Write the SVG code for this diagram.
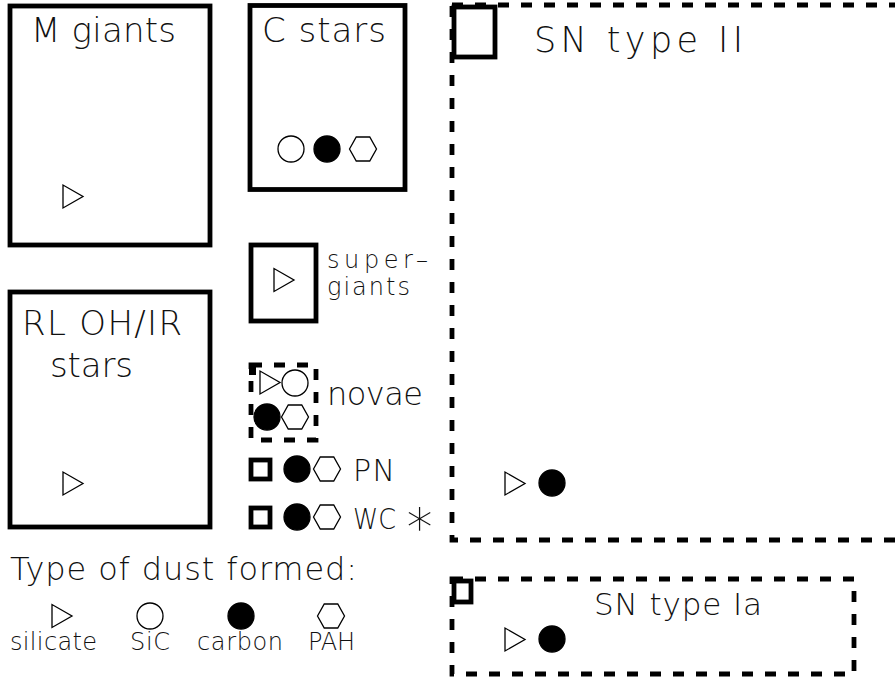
<svg xmlns="http://www.w3.org/2000/svg" width="895" height="679" viewBox="0 0 895 679">
<style>
.box{fill:none;stroke:#000;stroke-width:4.8}
.dash{fill:none;stroke:#000;stroke-width:4.8;stroke-dasharray:11 12}
.sym{fill:none;stroke:#000;stroke-width:1.3}
.fill{fill:#000;stroke:#000;stroke-width:1.3}
text{font-family:"DejaVu Sans","Liberation Sans",sans-serif;font-weight:200;fill:#111}
.big{font-size:34px}
.sm{font-size:24px}
</style>
<defs>
<polygon id="tri" class="sym" points="0,-11.5 0,11.5 20,0"/>
<circle id="oc" class="sym" r="13"/>
<circle id="fc" class="fill" r="13"/>
<polygon id="hex" class="sym" points="-13.5,0 -6.75,-12 6.75,-12 13.5,0 6.75,12 -6.75,12"/>
</defs>
<g id="m-giants">
<rect class="box" x="10" y="6" width="200" height="239"/>
<text class="big" x="31" y="42" textLength="145" lengthAdjust="spacing">M giants</text>
<use href="#tri" x="63" y="196.5"/>
</g>
<g id="c-stars">
<rect class="box" x="250" y="5.5" width="155" height="184"/>
<text class="big" x="262" y="42" textLength="124" lengthAdjust="spacing">C stars</text>
<use href="#oc" x="291" y="149"/>
<use href="#fc" x="327" y="149"/>
<use href="#hex" x="363" y="149"/>
</g>
<g id="supergiants">
<rect class="box" x="251" y="245" width="65" height="76"/>
<use href="#tri" x="274" y="280"/>
<text class="sm" x="327" y="268" textLength="101" lengthAdjust="spacing">super–</text>
<text class="sm" x="327" y="295" textLength="83" lengthAdjust="spacing">giants</text>
</g>
<g id="rl-ohir">
<rect class="box" x="10" y="292" width="200" height="235"/>
<text class="big" x="22" y="335" textLength="160" lengthAdjust="spacing">RL OH/IR</text>
<text class="big" x="50" y="377" textLength="83" lengthAdjust="spacing">stars</text>
<use href="#tri" x="63" y="483.5"/>
</g>
<g id="novae">
<rect class="dash" x="251" y="365" width="65" height="75"/>
<rect x="249" y="363" width="7" height="12" fill="#000"/>
<use href="#tri" x="260" y="382.5"/>
<use href="#oc" x="295" y="383"/>
<use href="#fc" x="267" y="417"/>
<use href="#hex" x="295" y="417"/>
<text style="font-size:32px" x="327" y="405" textLength="96" lengthAdjust="spacing">novae</text>
</g>
<g id="pn">
<rect class="box" x="251" y="460" width="19" height="19"/>
<use href="#fc" x="297" y="469"/>
<use href="#hex" x="327" y="469"/>
<text style="font-size:30px" x="353" y="481" textLength="42" lengthAdjust="spacing">PN</text>
</g>
<g id="wc">
<rect class="box" x="251" y="508" width="19" height="19"/>
<use href="#fc" x="297" y="517"/>
<use href="#hex" x="327" y="517"/>
<text style="font-size:29px" x="353" y="529" textLength="43" lengthAdjust="spacingAndGlyphs">WC</text>
<text style="font-size:52px" x="419.5" y="535" text-anchor="middle">∗</text>
</g>
<g id="sn-ii">
<rect class="dash" x="452" y="5" width="460" height="535"/>
<rect class="box" x="454" y="7" width="41" height="50"/>
<text style="font-size:35px" x="534" y="52" textLength="209" lengthAdjust="spacing">SN type II</text>
<use href="#tri" x="505" y="483.5"/>
<use href="#fc" x="552" y="483"/>
</g>
<g id="sn-ia">
<rect class="dash" x="452" y="579" width="402" height="95"/>
<rect class="box" x="454" y="581" width="17" height="21"/>
<text style="font-size:31px" x="594" y="615" textLength="168" lengthAdjust="spacing">SN type Ia</text>
<use href="#tri" x="505" y="639.5"/>
<use href="#fc" x="552" y="639"/>
</g>
<g id="legend">
<text style="font-size:32px" x="10" y="580" textLength="347" lengthAdjust="spacing">Type of dust formed:</text>
<use href="#tri" x="52" y="616"/>
<use href="#oc" x="150" y="616"/>
<use href="#fc" x="241" y="616"/>
<use href="#hex" x="331" y="616"/>
<text class="sm" x="10" y="650" textLength="87" lengthAdjust="spacing">silicate</text>
<text class="sm" x="130" y="650" textLength="40" lengthAdjust="spacing">SiC</text>
<text class="sm" x="197" y="650" textLength="86" lengthAdjust="spacing">carbon</text>
<text class="sm" x="308" y="650" textLength="47" lengthAdjust="spacing">PAH</text>
</g>
<g id="connectors"/>
</svg>
